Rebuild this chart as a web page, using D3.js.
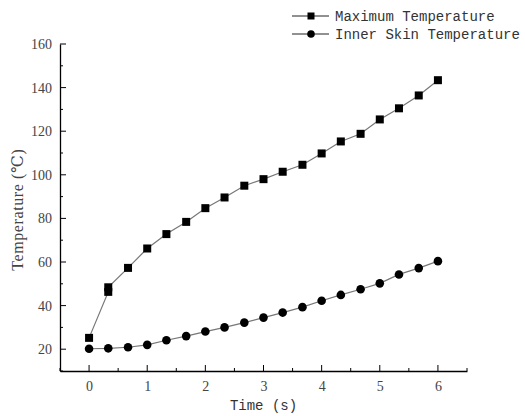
<!DOCTYPE html>
<html>
<head>
<meta charset="utf-8">
<script src="https://cdn.jsdelivr.net/npm/d3@7"></script>
<style>
  body { margin: 0; background: #fff; }
</style>
</head>
<body>
<div id="chart"></div>
<script>
var w = 525;
var h = 416;

// time (s) for each sample
var times = [0, 0.33, 0.33, 0.67, 1, 1.33, 1.67, 2, 2.33, 2.67, 3, 3.33, 3.67, 4, 4.33, 4.67, 5, 5.33, 5.67, 6];
var maxTemp = [25.2, 46.3, 48.4, 57.3, 66.2, 72.8, 78.4, 84.7, 89.6, 95.0, 98.0, 101.4, 104.6, 109.8, 115.3, 118.8, 125.4, 130.5, 136.4, 143.4];

var skinTimes = [0, 0.33, 0.67, 1, 1.33, 1.67, 2, 2.33, 2.67, 3, 3.33, 3.67, 4, 4.33, 4.67, 5, 5.33, 5.67, 6];
var skinTemp = [20.2, 20.4, 20.9, 22.0, 24.1, 26.0, 28.1, 30.0, 32.2, 34.5, 36.8, 39.3, 42.2, 44.9, 47.5, 50.2, 54.3, 57.2, 60.4];

var xTicks = [0, 1, 2, 3, 4, 5, 6];
var yTicks = [20, 40, 60, 80, 100, 120, 140, 160];
var seriesNames = ["Maximum Temperature", "Inner Skin Temperature"];

var margin = { left: 60, right: 60, top: 44, bottom: 45 };

var svg = d3.select("#chart")
    .append("svg")
    .attr("width", w)
    .attr("height", h);

var x = d3.scaleLinear()
    .domain([-0.5, 6.5])
    .range([margin.left, 467]);

var y = d3.scaleLinear()
    .domain([10, 160])
    .range([371, 44]);

// axes, ticks inside
var xAxis = d3.axisBottom(x)
    .tickValues(xTicks)
    .tickSize(0)
    .tickPadding(10)
    .tickFormat(d3.format("d"));

var gx = svg.append("g")
    .attr("transform", "translate(0," + y(10) + ")")
    .call(xAxis);

gx.select(".domain").attr("stroke", "#000").attr("stroke-width", 1.3);

gx.selectAll(".major")
    .data(xTicks)
    .enter()
    .append("line")
    .attr("x1", function (d) { return x(d); })
    .attr("x2", function (d) { return x(d); })
    .attr("y1", 0)
    .attr("y2", -6)
    .attr("stroke", "#000");

gx.selectAll(".minor")
    .data(d3.range(-0.5, 6.6, 1))
    .enter()
    .append("line")
    .attr("x1", function (d) { return x(d); })
    .attr("x2", function (d) { return x(d); })
    .attr("y1", 0)
    .attr("y2", -3)
    .attr("stroke", "#000");

var yAxis = d3.axisLeft(y)
    .tickValues(yTicks)
    .tickSize(0)
    .tickPadding(8);

var gy = svg.append("g")
    .attr("transform", "translate(" + margin.left + ",0)")
    .call(yAxis);

gy.select(".domain").attr("stroke", "#000").attr("stroke-width", 1.3);

gy.selectAll(".major")
    .data(yTicks)
    .enter()
    .append("line")
    .attr("x1", 0)
    .attr("x2", 6)
    .attr("y1", function (d) { return y(d); })
    .attr("y2", function (d) { return y(d); })
    .attr("stroke", "#000");

gy.selectAll(".minor")
    .data(d3.range(10, 160, 20))
    .enter()
    .append("line")
    .attr("x1", 0)
    .attr("x2", 3)
    .attr("y1", function (d) { return y(d); })
    .attr("y2", function (d) { return y(d); })
    .attr("stroke", "#000");

svg.selectAll(".tick text")
    .style("font-family", "'Liberation Serif', 'DejaVu Serif', serif")
    .style("font-size", "14px")
    .attr("fill", "#444");

// axis titles
svg.append("text")
    .attr("x", x(3))
    .attr("y", 410)
    .attr("text-anchor", "middle")
    .style("font-family", "'Liberation Mono', monospace")
    .style("font-size", "14px")
    .attr("fill", "#333")
    .text("Time (s)");

svg.append("text")
    .attr("transform", "translate(23," + y(84) + ") rotate(-90)")
    .attr("text-anchor", "middle")
    .style("font-family", "'Liberation Serif', 'DejaVu Serif', serif")
    .style("font-size", "16px")
    .style("letter-spacing", "0.6px")
    .attr("fill", "#444")
    .text("Temperature (℃)");

// lines
var maxPts = times.map(function (t, i) { return [t, maxTemp[i]]; });
var skinPts = skinTimes.map(function (t, i) { return [t, skinTemp[i]]; });

var line = d3.line()
    .x(function (d) { return x(d[0]); })
    .y(function (d) { return y(d[1]); });

svg.append("path")
    .attr("d", line(maxPts))
    .attr("fill", "none")
    .attr("stroke", "#777")
    .attr("stroke-width", 1.2);

svg.append("path")
    .attr("d", line(skinPts))
    .attr("fill", "none")
    .attr("stroke", "#777")
    .attr("stroke-width", 1.2);

svg.selectAll(".sq")
    .data(maxPts)
    .enter()
    .append("rect")
    .attr("x", function (d) { return x(d[0]) - 4; })
    .attr("y", function (d) { return y(d[1]) - 4; })
    .attr("width", 8)
    .attr("height", 8)
    .attr("fill", "#000");

svg.selectAll(".dot")
    .data(skinPts)
    .enter()
    .append("circle")
    .attr("cx", function (d) { return x(d[0]); })
    .attr("cy", function (d) { return y(d[1]); })
    .attr("r", 4.3)
    .attr("fill", "#000");

// legend
var legend = svg.selectAll(".legend")
    .data(seriesNames)
    .enter()
    .append("g")
    .attr("transform", function (d, i) { return "translate(292," + (16 + i * 18) + ")"; });

legend.append("line")
    .attr("x1", 0)
    .attr("x2", 37)
    .attr("stroke", "#222")
    .attr("stroke-width", 1);

legend.filter(function (d, i) { return i === 0; })
    .append("rect")
    .attr("x", 15.5)
    .attr("y", -3.5)
    .attr("width", 7)
    .attr("height", 7)
    .attr("fill", "#000");

legend.filter(function (d, i) { return i === 1; })
    .append("circle")
    .attr("cx", 19)
    .attr("r", 3.8)
    .attr("fill", "#000");

legend.append("text")
    .attr("x", 43)
    .attr("y", 5)
    .style("font-family", "'Liberation Mono', monospace")
    .style("font-size", "14px")
    .attr("fill", "#333")
    .text(function (d) { return d; });
</script>
</body>
</html>
